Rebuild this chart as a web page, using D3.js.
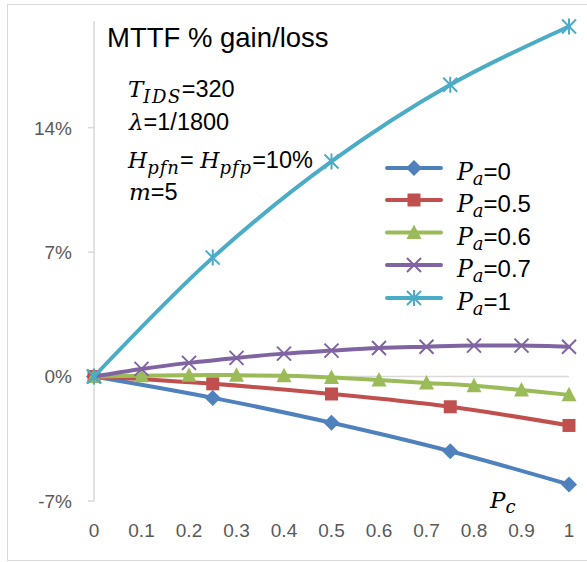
<!DOCTYPE html>
<html><head><meta charset="utf-8">
<script src="https://cdn.jsdelivr.net/npm/d3@7"></script>
<style>body{margin:0;background:#fff}svg{display:block}</style>
</head><body>
<svg id="chart" width="587" height="562"></svg>
<script>
// ---- data ----
const xTicks = [0,0.1,0.2,0.3,0.4,0.5,0.6,0.7,0.8,0.9,1];
const xTickLabels = ["0","0.1","0.2","0.3","0.4","0.5","0.6","0.7","0.8","0.9","1"];
const yTicks = [-7,0,7,14];
const yTickLabels = ["-7%","0%","7%","14%"];
const seriesNames = ["0","0.5","0.6","0.7","1"];
const xQuarter = [0,0.25,0.5,0.75,1];
const xTenth = [0,0.1,0.2,0.3,0.4,0.5,0.6,0.7,0.8,0.9,1];
const pa0 = [0,-1.2,-2.6,-4.2,-6.07];
const pa05 = [0,-0.41,-0.98,-1.70,-2.75];
const pa06 = [0,0.05,0.08,0.08,0.04,-0.05,-0.2,-0.36,-0.52,-0.76,-1.03];
const pa07 = [0,0.43,0.77,1.05,1.29,1.46,1.61,1.68,1.74,1.74,1.68];
const pa1 = [0,6.69,12.1,16.41,19.69];
const colors = ["#4F81BD","#C0504D","#9BBB59","#8064A2","#4BACC6"];
const markers = ["diamond","square","triangle","x","star"];

const series = [
  {name:seriesNames[0], xs:xQuarter, ys:pa0},
  {name:seriesNames[1], xs:xQuarter, ys:pa05},
  {name:seriesNames[2], xs:xTenth, ys:pa06},
  {name:seriesNames[3], xs:xTenth, ys:pa07},
  {name:seriesNames[4], xs:xQuarter, ys:pa1}
];

const svg = d3.select("#chart");
const SANS = "'Liberation Sans', Arial, sans-serif";
const SERIF = "'DejaVu Serif', 'Liberation Serif', serif";

svg.append("rect").attr("x",7.5).attr("y",4.5).attr("width",590).attr("height",556)
  .attr("fill","#fff").attr("stroke","#D9D9D9").attr("stroke-width",1);

const x = d3.scaleLinear().domain([0,1]).range([94,569]);
const y = d3.scaleLinear().domain([-7,20]).range([501,21]);

// axes
svg.append("line").attr("x1",x(0)).attr("x2",x(0)).attr("y1",y(20)).attr("y2",y(-7))
  .attr("stroke","#D9D9D9").attr("stroke-width",1.5);
svg.append("line").attr("x1",x(0)).attr("x2",x(1)).attr("y1",y(0)).attr("y2",y(0))
  .attr("stroke","#D9D9D9").attr("stroke-width",1.5);
yTicks.forEach((t,i)=>{
  svg.append("line").attr("x1",x(0)-6).attr("x2",x(0)).attr("y1",y(t)).attr("y2",y(t))
    .attr("stroke","#D9D9D9").attr("stroke-width",1.5);
  svg.append("text").attr("x",72).attr("y",y(t)).attr("dy","0.36em").attr("text-anchor","end")
    .attr("font-family",SANS).attr("font-size",19).attr("fill","#595959").text(yTickLabels[i]);
});
xTicks.forEach((t,i)=>{
  svg.append("text").attr("x",x(t)).attr("y",537).attr("text-anchor","middle")
    .attr("font-family",SANS).attr("font-size",19).attr("fill","#595959").text(xTickLabels[i]);
});

function drawMarker(g, type, cx, cy, color){
  const s = 7;
  if(type==="diamond"){
    g.append("path").attr("d",`M${cx},${cy-s-1}L${cx+s+1},${cy}L${cx},${cy+s+1}L${cx-s-1},${cy}Z`).attr("fill",color);
  } else if(type==="square"){
    g.append("rect").attr("x",cx-s+0.5).attr("y",cy-s+0.5).attr("width",2*s-1).attr("height",2*s-1).attr("fill",color);
  } else if(type==="triangle"){
    g.append("path").attr("d",`M${cx},${cy-s-1}L${cx+s+0.5},${cy+s-0.5}L${cx-s-0.5},${cy+s-0.5}Z`).attr("fill",color);
  } else if(type==="x"){
    g.append("path").attr("d",`M${cx-s},${cy-s}L${cx+s},${cy+s}M${cx+s},${cy-s}L${cx-s},${cy+s}`)
      .attr("stroke",color).attr("stroke-width",2).attr("fill","none");
  } else if(type==="star"){
    g.append("path").attr("d",`M${cx-s},${cy-s}L${cx+s},${cy+s}M${cx+s},${cy-s}L${cx-s},${cy+s}M${cx},${cy-s-1}L${cx},${cy+s+1}`)
      .attr("stroke",color).attr("stroke-width",2).attr("fill","none");
  }
}

const line = d3.line().x(d=>x(d[0])).y(d=>y(d[1])).curve(d3.curveCatmullRom.alpha(0.5));
series.forEach((s,i)=>{
  const g = svg.append("g");
  const pts = s.xs.map((v,j)=>[v,s.ys[j]]);
  g.append("path").datum(pts).attr("d",line).attr("fill","none").attr("stroke",colors[i])
    .attr("stroke-width",4).attr("stroke-linecap","round").attr("stroke-linejoin","round");
  pts.forEach(p=>drawMarker(g, markers[i], x(p[0]), y(p[1]), colors[i]));
});

// title
svg.append("text").attr("x",107).attr("y",47).attr("font-family",SANS).attr("font-size",27.5)
  .attr("fill","#000").text("MTTF % gain/loss");

// annotations
function rich(xp, yp, parts){
  const t = svg.append("text").attr("x",xp).attr("y",yp).attr("fill","#000");
  let shift = 0;
  parts.forEach(p=>{
    const ts = t.append("tspan").text(p.t);
    if(p.it){ ts.attr("font-family",SERIF).attr("font-style","italic"); }
    else ts.attr("font-family",SANS);
    ts.attr("font-size",p.fs);
    if(p.ls) ts.attr("letter-spacing",p.ls);
    const target = p.sub ? p.sub : 0;
    if(target!==shift){ ts.attr("dy",target-shift); shift=target; }
  });
  return t;
}
rich(128,97,[{t:"T",it:1,fs:23},{t:"IDS",it:1,fs:18,sub:6,ls:1.5},{t:"=320",fs:23.5}]);
rich(129,130,[{t:"λ",it:1,fs:23},{t:"=1/1800",fs:23.5}]);
rich(128,168,[{t:"H",it:1,fs:22},{t:"pfn",it:1,fs:18,sub:6,ls:1},{t:"= ",fs:23.5},{t:"H",it:1,fs:22},{t:"pfp",it:1,fs:18,sub:6,ls:1},{t:"=10%",fs:23.5}]);
rich(129,200,[{t:"m",it:1,fs:23},{t:"=5",fs:23.5}]);

// P_c axis label
rich(490,508,[{t:"P",it:1,fs:23},{t:"c",it:1,fs:18,sub:5}]);

// legend
const legY = [168,200,232.5,265,298];
series.forEach((s,i)=>{
  const g = svg.append("g");
  g.append("line").attr("x1",387).attr("x2",441).attr("y1",legY[i]).attr("y2",legY[i])
    .attr("stroke",colors[i]).attr("stroke-width",4).attr("stroke-linecap","round");
  drawMarker(g, markers[i], 414, legY[i], colors[i]);
  rich(457, legY[i]+12, [{t:"P",it:1,fs:23.5},{t:"a",it:1,fs:18,sub:5},{t:"="+s.name,fs:24}]);
});
</script>
</body></html>
